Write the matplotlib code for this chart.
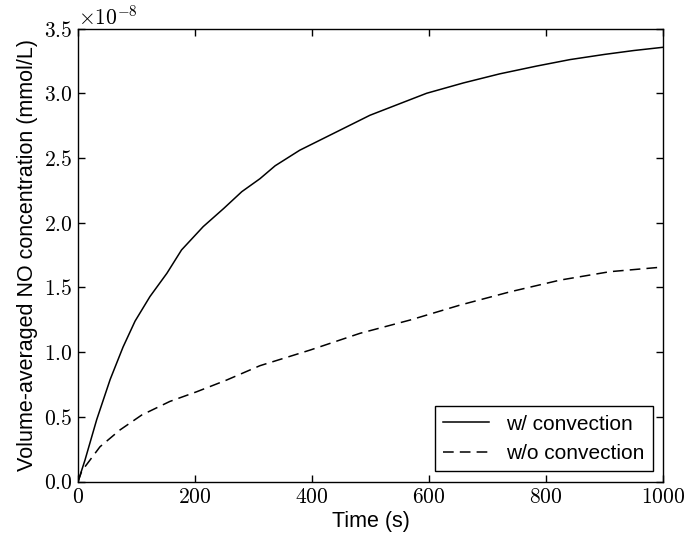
import numpy as np
import matplotlib
matplotlib.use("Agg")
import matplotlib.pyplot as plt

# Volume-averaged NO concentration vs time (mmol/L)
t_conv = [0, 12, 32, 55, 77, 97.5, 123, 152, 177, 214, 249, 280, 311, 337,
          379, 419, 459, 499, 556, 596, 659, 721, 784, 841, 900, 950, 1000]
c_conv = [0, 0.168, 0.48, 0.79, 1.04, 1.24, 1.43, 1.61, 1.79, 1.97, 2.11,
          2.24, 2.34, 2.44, 2.56, 2.65, 2.74, 2.83, 2.93, 3.00, 3.08, 3.15,
          3.21, 3.26, 3.30, 3.33, 3.355]

t_diff = [0, 6, 12, 37.6, 71.8, 108.9, 157, 203, 254, 311, 397, 482, 568,
          653, 739, 824, 909, 1000]
c_diff = [0, 0.077, 0.116, 0.27, 0.40, 0.515, 0.62, 0.695, 0.785, 0.896,
          1.017, 1.146, 1.249, 1.364, 1.467, 1.557, 1.622, 1.658]

scale = 1e-8
c_conv = np.array(c_conv) * scale
c_diff = np.array(c_diff) * scale

plt.rcParams['font.family'] = 'serif'
plt.rcParams['font.serif'] = ['cmr10']
plt.rcParams['mathtext.fontset'] = 'cm'
plt.rcParams['axes.formatter.use_mathtext'] = True

sans = 'Liberation Sans'

fig = plt.figure(figsize=(6.86, 5.35), dpi=100)
ax = fig.add_axes([0.1137, 0.0996, 0.8528, 0.8471])

ax.plot(t_conv, c_conv, color='black', lw=1.1, label='w/ convection')
ax.plot(t_diff, c_diff, color='black', lw=1.1, dashes=(7, 4),
        label='w/o convection')

ax.set_xlim(0, 1000)
ax.set_ylim(0, 3.5e-8)
ax.set_xticks([0, 200, 400, 600, 800, 1000])
ax.set_yticks(np.arange(0, 3.51, 0.5) * scale)

ax.tick_params(direction='in', top=True, right=True, length=5, width=1,
               labelsize=15.5, pad=4)
ax.yaxis.get_offset_text().set_fontsize(15.5)
for s in ax.spines.values():
    s.set_linewidth(1.0)

ax.set_xlabel('Time (s)', family=sans, fontsize=15.5, labelpad=3)
ax.set_ylabel('Volume-averaged NO concentration (mmol/L)', family=sans,
              fontsize=15.5, labelpad=4)

leg = ax.legend(loc='lower right', prop={'family': sans, 'size': 15},
                fancybox=False, framealpha=1, edgecolor='black',
                handlelength=2.2)
leg.get_frame().set_linewidth(1.0)

fig.savefig('out.png', dpi=100)
